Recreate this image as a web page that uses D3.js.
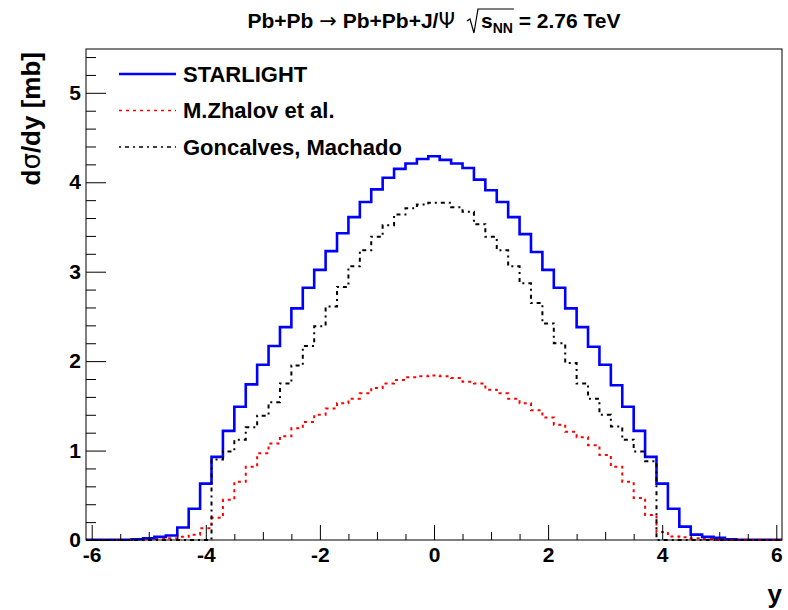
<!DOCTYPE html>
<html>
<head>
<meta charset="utf-8">
<script src="https://cdn.jsdelivr.net/npm/d3@7"></script>
<style>
body { margin: 0; background: #fff; }
text { font-family: "Liberation Sans", Arial, Helvetica, sans-serif; font-weight: bold; fill: #000; }
</style>
</head>
<body>
<div id="chart"></div>
<script>
// Bins are 0.2 wide, edges at odd tenths, so centres run -6.0, -5.8, ... 6.0
var binLow = -6.1, binWidth = 0.2;

// dsigma/dy per bin [mb]
var starlight = [0.003, 0.003, 0.003, 0.003, 0.008, 0.02, 0.035, 0.05, 0.14, 0.35,
  0.63, 0.93, 1.22, 1.49, 1.74, 1.96, 2.17, 2.38, 2.59, 2.82,
  3.02, 3.23, 3.43, 3.61, 3.78, 3.92, 4.05, 4.15, 4.21, 4.26,
  4.29,
  4.25, 4.21, 4.16, 4.03, 3.91, 3.78, 3.61, 3.42, 3.22, 3.02,
  2.82, 2.59, 2.38, 2.16, 1.96, 1.73, 1.49, 1.22, 0.93, 0.63,
  0.35, 0.15, 0.06, 0.035, 0.025, 0.008, 0.003, 0.003, 0.003, 0.003];

var zhalov = [0, 0, 0, 0, 0, 0, 0.01, 0.02, 0.035, 0.06,
  0.13, 0.25, 0.45, 0.65, 0.82, 0.97, 1.08, 1.16, 1.25, 1.32,
  1.40, 1.47, 1.53, 1.58, 1.64, 1.70, 1.75, 1.79, 1.82, 1.83,
  1.84,
  1.83, 1.81, 1.77, 1.75, 1.68, 1.64, 1.58, 1.53, 1.45, 1.37,
  1.29, 1.21, 1.15, 1.06, 0.95, 0.82, 0.65, 0.47, 0.28, 0.09,
  0.04, 0.03, 0.02, 0.01, 0, 0, 0, 0, 0, 0];

var goncalves = [0, 0, 0, 0, 0, 0, 0, 0, 0, 0,
  0, 0.90, 0.99, 1.12, 1.26, 1.39, 1.54, 1.75, 1.95, 2.17,
  2.39, 2.61, 2.83, 3.06, 3.24, 3.39, 3.52, 3.64, 3.71, 3.75,
  3.77,
  3.77, 3.72, 3.67, 3.53, 3.39, 3.24, 3.06, 2.87, 2.65, 2.42,
  2.20, 1.98, 1.75, 1.58, 1.40, 1.27, 1.12, 0.99, 0.88, 0,
  0, 0, 0, 0, 0, 0, 0, 0, 0, 0];

var xTicks = [-6, -4, -2, 0, 2, 4, 6];
var yTicks = [0, 1, 2, 3, 4, 5];
var legendNames = ["STARLIGHT", "M.Zhalov et al.", "Goncalves, Machado"];

// Dimensions of the page and the frame.
var width = 788, height = 610;
var frame = { left: 86, right: 782, top: 49, bottom: 540 };

var svg = d3.select("#chart").append("svg")
    .attr("width", width)
    .attr("height", height);

var x = d3.scaleLinear().domain([-6.1, 6.1]).range([frame.left, frame.right]);
var y = d3.scaleLinear().domain([0, 5.49]).range([frame.bottom, frame.top]);

// Line styles for the three curves.
var styles = [
  { color: "#0000ff", width: 2.6, dash: null },
  { color: "#ff0000", width: 2, dash: "3,4" },
  { color: "#000000", width: 2, dash: "2,4,4,4" }
];

// Histogram outline: one point per left bin edge, plus the last edge.
function histPoints(values) {
  var pts = values.map(function(v, i) { return [binLow + i * binWidth, v]; });
  pts.push([binLow + values.length * binWidth, values[values.length - 1]]);
  return pts;
}

var line = d3.line()
    .x(function(d) { return x(d[0]); })
    .y(function(d) { return y(d[1]); })
    .curve(d3.curveStepAfter);

var series = [starlight, zhalov, goncalves];

svg.append("g").selectAll("path")
    .data(series)
  .enter().append("path")
    .attr("d", function(d) { return line(histPoints(d)); })
    .attr("fill", "none")
    .attr("stroke", function(d, i) { return styles[i].color; })
    .attr("stroke-width", function(d, i) { return styles[i].width; })
    .attr("stroke-dasharray", function(d, i) { return styles[i].dash; });

// Axes: ticks point into the frame, ROOT style.
function cleanAxis(g) {
  g.select(".domain").remove();
  g.selectAll("line").attr("stroke", "#000");
  g.attr("font-family", null).attr("font-size", null);
  g.selectAll("text").style("font-size", "21px");
}

svg.append("g")
    .attr("transform", "translate(0," + frame.bottom + ")")
    .call(d3.axisBottom(x).tickValues(d3.range(-5.5, 6, 1)).tickSize(-6).tickFormat(""))
    .call(cleanAxis);
svg.append("g")
    .attr("transform", "translate(0," + frame.bottom + ")")
    .call(d3.axisBottom(x).tickValues([-5, -3, -1, 1, 3, 5]).tickSize(-8).tickFormat(""))
    .call(cleanAxis);
svg.append("g")
    .attr("transform", "translate(0," + frame.bottom + ")")
    .call(d3.axisBottom(x).tickValues(xTicks).tickSize(-15).tickPadding(7)
      .tickFormat(function(d) { return String(d); }))
    .call(cleanAxis);

var yMinor = d3.range(0.2, 5.45, 0.2).filter(function(v) { return Math.abs(v - Math.round(v)) > 0.05; });
svg.append("g")
    .attr("transform", "translate(" + frame.left + ",0)")
    .call(d3.axisLeft(y).tickValues(yMinor).tickSize(-10).tickFormat(""))
    .call(cleanAxis);
svg.append("g")
    .attr("transform", "translate(" + frame.left + ",0)")
    .call(d3.axisLeft(y).tickValues(yTicks).tickSize(-20).tickPadding(5)
      .tickFormat(function(d) { return String(d); }))
    .call(cleanAxis);

// Frame
svg.append("rect")
    .attr("x", frame.left)
    .attr("y", frame.top)
    .attr("width", frame.right - frame.left)
    .attr("height", frame.bottom - frame.top)
    .attr("fill", "none")
    .attr("stroke", "#000")
    .attr("stroke-width", 1);

// Axis titles
svg.append("text")
    .attr("x", frame.right)
    .attr("y", 603)
    .attr("text-anchor", "end")
    .style("font-size", "26px")
    .text("y");

var ylab = svg.append("text")
    .attr("transform", "translate(40," + (frame.top + 3) + ") rotate(-90)")
    .attr("text-anchor", "end")
    .style("font-size", "26px");
ylab.append("tspan").text("d");
ylab.append("tspan").style("font-family", "DejaVu Sans").style("font-weight", "normal").text("σ");
ylab.append("tspan").text("/dy [mb]");

// Title, with a drawn square-root sign over s_NN
var titleBase = 28;
var title = svg.append("text")
    .attr("x", 434)
    .attr("y", titleBase)
    .attr("text-anchor", "middle")
    .style("font-size", "21px");
title.append("tspan").text("Pb+Pb ");
title.append("tspan").style("font-family", "DejaVu Sans").style("font-weight", "normal").text("→");
title.append("tspan").text(" Pb+Pb+J/");
title.append("tspan").style("font-family", "DejaVu Sans").style("font-weight", "normal").text("Ψ");
title.append("tspan").attr("dx", 26).text("s");
title.append("tspan").attr("dy", 5).style("font-size", "14px").text("NN");
title.append("tspan").attr("dy", -5).text(" = 2.76 TeV");

var sBox = title.node().getExtentOfChar(17);
var nBox = title.node().getExtentOfChar(19);
var r0 = sBox.x - 14, barY = titleBase - 19;
svg.append("path")
    .attr("d", "M" + r0 + "," + (titleBase - 7) + " L" + (r0 + 3) + "," + (titleBase - 9) +
      " L" + (r0 + 7) + "," + (titleBase + 5) + " L" + (r0 + 11) + "," + barY +
      " L" + (nBox.x + nBox.width + 1) + "," + barY)
    .attr("fill", "none")
    .attr("stroke", "#000")
    .attr("stroke-width", 1.2);

// Legend, no box
var legend = svg.append("g").selectAll("g")
    .data(legendNames)
  .enter().append("g")
    .attr("transform", function(d, i) { return "translate(119," + (74 + i * 36.5) + ")"; });

legend.append("line")
    .attr("x1", 0).attr("x2", 57)
    .attr("stroke", function(d, i) { return styles[i].color; })
    .attr("stroke-width", function(d, i) { return i == 0 ? 2.6 : 1.5; })
    .attr("stroke-dasharray", function(d, i) { return styles[i].dash; });

legend.append("text")
    .attr("x", 64)
    .attr("dy", "0.36em")
    .style("font-size", "22px")
    .text(function(d) { return d; });
</script>
</body>
</html>
